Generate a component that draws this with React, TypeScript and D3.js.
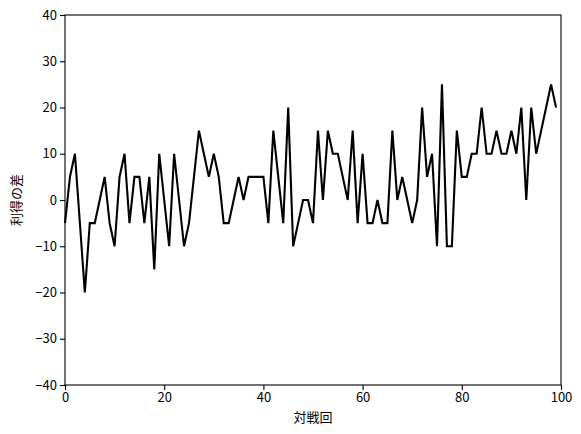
import React, { useEffect, useRef } from 'react';
import * as d3 from 'd3';

const width = 581;
const height = 434;
const margin = { top: 15, right: 20, bottom: 49, left: 65 };

// 利得の差 per round (0..99)
const diffs = [
  -5, 5, 10, -5, -20, -5, -5, 0, 5, -5,
  -10, 5, 10, -5, 5, 5, -5, 5, -15, 10,
  0, -10, 10, 0, -10, -5, 5, 15, 10, 5,
  10, 5, -5, -5, 0, 5, 0, 5, 5, 5,
  5, -5, 15, 5, -5, 20, -10, -5, 0, 0,
  -5, 15, 0, 15, 10, 10, 5, 0, 15, -5,
  10, -5, -5, 0, -5, -5, 15, 0, 5, 0,
  -5, 0, 20, 5, 10, -10, 25, -10, -10, 15,
  5, 5, 10, 10, 20, 10, 10, 15, 10, 10,
  15, 10, 20, 0, 20, 10, 15, 20, 25, 20,
];
const rounds = diffs.map((_, i) => i);

const xTicks = [0, 20, 40, 60, 80, 100];
const yTicks = [-40, -30, -20, -10, 0, 10, 20, 30, 40];

const font = "'Noto Sans CJK JP', sans-serif";

function App() {
  const ref = useRef<SVGSVGElement>(null);

  useEffect(() => {
    const svg = d3.select(ref.current);
    svg.selectAll('*').remove();

    const x = d3
      .scaleLinear()
      .domain([0, 100])
      .range([margin.left, width - margin.right]);
    const y = d3
      .scaleLinear()
      .domain([-40, 40])
      .range([height - margin.bottom, margin.top]);

    const line = d3
      .line<number>()
      .x((_, i) => x(rounds[i]))
      .y((d) => y(d));

    svg
      .append('path')
      .datum(diffs)
      .attr('d', line)
      .attr('fill', 'none')
      .attr('stroke', 'black')
      .attr('stroke-width', 2.1)
      .attr('stroke-linejoin', 'miter');

    // x axis
    const xAxis = svg
      .append('g')
      .attr('transform', `translate(0, ${height - margin.bottom})`)
      .call(
        d3
          .axisBottom(x)
          .tickValues(xTicks)
          .tickSizeInner(5)
          .tickSizeOuter(0)
          .tickPadding(3)
      );

    // y axis
    const yAxis = svg
      .append('g')
      .attr('transform', `translate(${margin.left}, 0)`)
      .call(
        d3
          .axisLeft(y)
          .tickValues(yTicks)
          .tickFormat((d) => String(d).replace('-', '\u2212'))
          .tickSizeInner(5)
          .tickSizeOuter(0)
          .tickPadding(3)
      );

    [xAxis, yAxis].forEach((g) => {
      g.selectAll('text')
        .attr('fill', 'black')
        .style('font-family', font)
        .style('font-size', '13px');
      g.selectAll('line').attr('stroke', 'black').attr('stroke-width', 1.1);
      g.select('.domain').remove();
    });

    // frame
    svg
      .append('rect')
      .attr('x', margin.left)
      .attr('y', margin.top)
      .attr('width', width - margin.left - margin.right)
      .attr('height', height - margin.top - margin.bottom)
      .attr('fill', 'none')
      .attr('stroke', 'black')
      .attr('stroke-width', 1.1);

    svg
      .append('text')
      .attr('x', (margin.left + width - margin.right) / 2)
      .attr('y', height - 12)
      .attr('text-anchor', 'middle')
      .attr('fill', 'black')
      .style('font-family', font)
      .style('font-size', '13px')
      .text('対戦回');

    svg
      .append('text')
      .attr(
        'transform',
        `translate(21, ${(margin.top + height - margin.bottom) / 2}) rotate(-90)`
      )
      .attr('text-anchor', 'middle')
      .attr('fill', 'black')
      .style('font-family', font)
      .style('font-size', '13px')
      .text('利得の差');
  }, []);

  return (
    <svg
      ref={ref}
      width={width}
      height={height}
      style={{ position: 'absolute', left: 0, top: 0, background: 'white' }}
    />
  );
}

export default App;
